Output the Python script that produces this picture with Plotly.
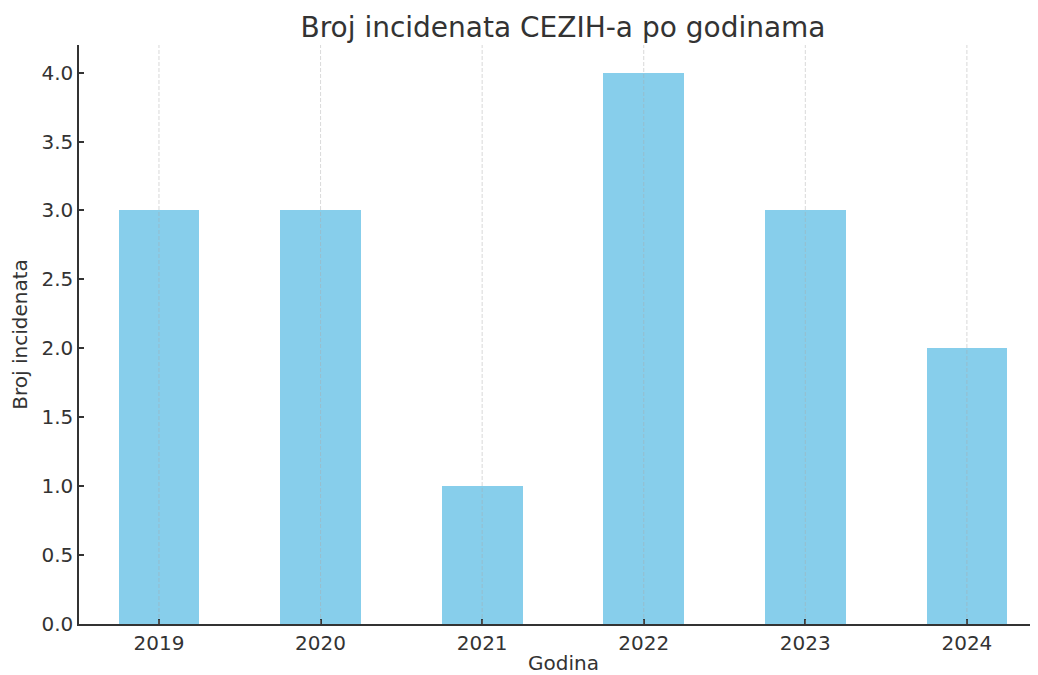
import plotly.graph_objects as go

years = ["2019", "2020", "2021", "2022", "2023", "2024"]
incidents = [3, 3, 1, 4, 3, 2]
y_ticks = [0.0, 0.5, 1.0, 1.5, 2.0, 2.5, 3.0, 3.5, 4.0]

TEXT = "#333333"
FONT = "DejaVu Sans"

# page body has an 8px default margin; size the figure so it fills the window
W, H = 1030, 667

fig = go.Figure()
fig.add_trace(go.Bar(
    x=list(range(len(years))), y=incidents,
    width=0.5, marker=dict(color="#87CEEB", line=dict(width=0)),
))

for i, _ in enumerate(years):
    fig.add_shape(type="line", xref="x", yref="paper", x0=i, x1=i, y0=0, y1=1,
                  line=dict(color="rgba(170,170,170,0.45)", width=1, dash="4px,2px"),
                  layer="above")

fig.add_annotation(text="Godina", xref="paper", yref="paper", x=(563 - 8 - 71) / (W - 71),
                   y=0, yanchor="middle", yshift=-39, showarrow=False, borderpad=0,
                   font=dict(size=20, color=TEXT))

fig.update_layout(
    width=W, height=H,
    margin=dict(l=71, r=0, t=37, b=51, autoexpand=False),
    plot_bgcolor="white", paper_bgcolor="white",
    font=dict(family=FONT, color=TEXT, size=20),
    showlegend=False,
    title=dict(text="Broj incidenata CEZIH-a po godinama", x=555 / W, xanchor="center",
               y=1 - 19 / H, yanchor="middle", font=dict(size=28, color=TEXT)),
    bargap=0,
)
fig.update_xaxes(
    range=[-0.495, 5.44], tickmode="array", tickvals=list(range(len(years))), ticktext=years,
    showgrid=False, zeroline=False, showline=True, linecolor=TEXT, linewidth=1.5,
    ticks="inside", ticklen=5, tickcolor=TEXT, tickwidth=1.5,
    tickfont=dict(size=20), automargin=False,
)
fig.update_yaxes(
    range=[0, 4.2], tickmode="array", tickvals=y_ticks, ticktext=[f"{v:.1f}" for v in y_ticks],
    showgrid=False, zeroline=False, showline=True, linecolor=TEXT, linewidth=1.5,
    ticks="inside", ticklen=5, tickcolor=TEXT, tickwidth=1.5,
    title=dict(text="Broj incidenata", font=dict(size=20), standoff=8),
    tickfont=dict(size=20), automargin=False,
)

fig.write_html("out.html")
